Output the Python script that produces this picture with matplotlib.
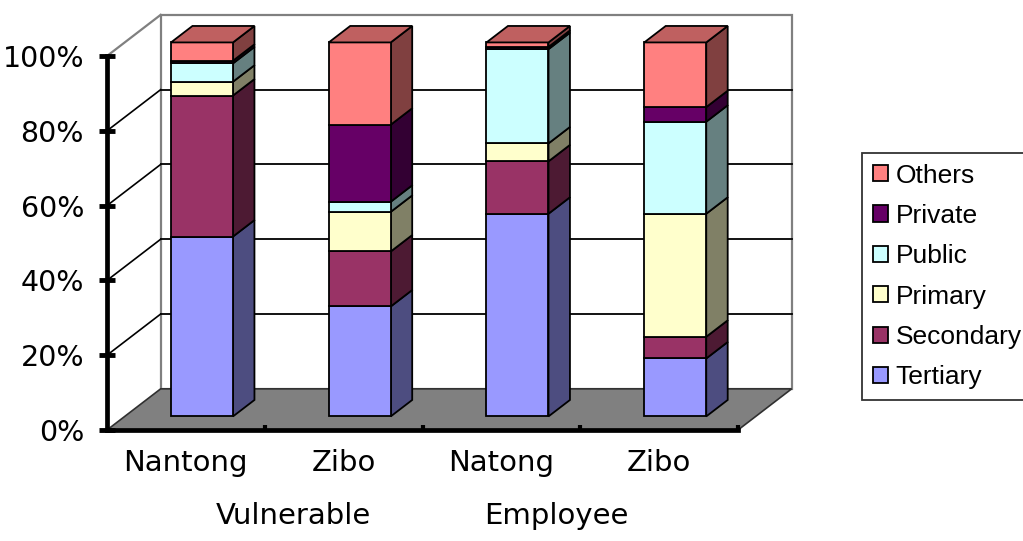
import matplotlib.pyplot as plt
from matplotlib.patches import Polygon, Patch
from matplotlib.colors import to_rgb
import numpy as np

# dados
categories = ['Nantong', 'Zibo', 'Natong', 'Zibo']
groups = ['Vulnerable', 'Employee']
series = ['Tertiary', 'Secondary', 'Primary', 'Public', 'Private', 'Others']
tertiary = [48.1, 29.4, 54.2, 15.5]
secondary = [37.7, 14.7, 14.0, 5.8]
primary = [3.7, 10.6, 4.8, 32.9]
public = [4.9, 2.7, 25.2, 24.6]
private = [0.7, 20.6, 0.6, 3.9]
others = [4.9, 22.0, 1.2, 17.3]
colors = ['#9999FF', '#993366', '#FFFFCC', '#CCFFFF', '#660066', '#FF8080']
y_ticks = [0, 20, 40, 60, 80, 100]

# profundidade da caixa 3D (em unidades de dados)
DX, DY = 0.34, 11.0
Z0, Z1 = 0.33, 0.73
BAR_W = 0.393


def proj(x, y, z):
    return (x + z * DX, y + z * DY)


def shade(c, f):
    return tuple(v * f for v in to_rgb(c))


def poly(ax, pts, fc, ec='black', lw=1.3, z=3):
    ax.add_patch(Polygon(pts, closed=True, facecolor=fc, edgecolor=ec,
                         linewidth=lw, zorder=z, clip_on=False,
                         joinstyle='miter'))


values = np.array([tertiary, secondary, primary, public, private, others])
pct = values / values.sum(axis=0) * 100
n = len(categories)

fig = plt.figure(figsize=(10.23, 5.41), dpi=100)
ax = fig.add_axes([107 / 1023, 111 / 541, 631 / 1023, 374 / 541])
ax.set_xlim(0, n)
ax.set_ylim(0, 100)
ax.patch.set_visible(False)

# parede do fundo com linhas de grade
poly(ax, [proj(0, 0, 1), proj(n, 0, 1), proj(n, 100, 1), proj(0, 100, 1)],
     'white', ec='#808080', lw=1.6, z=0.5)
for v in y_ticks[1:-1]:
    ax.plot(*zip(proj(0, v, 1), proj(n, v, 1)), color='black', lw=1.3,
            zorder=0.8, clip_on=False)
    ax.plot(*zip(proj(0, v, 0), proj(0, v, 1)), color='black', lw=1.2,
            zorder=0.8, clip_on=False)
ax.plot(*zip(proj(0, 100, 0), proj(0, 100, 1)), color='#808080', lw=1.6,
        zorder=0.8, clip_on=False)

# chão
poly(ax, [proj(0, 0, 0), proj(n, 0, 0), proj(n, 0, 1), proj(0, 0, 1)],
     '#808080', ec='#303030', lw=1.2, z=1)

# barras empilhadas
for i in range(n):
    x0 = i + 0.49 - BAR_W / 2
    x1 = x0 + BAR_W
    base = 0
    for k in range(len(series)):
        top = base + pct[k, i]
        c = colors[k]
        poly(ax, [proj(x1, base, Z0), proj(x1, base, Z1),
                  proj(x1, top, Z1), proj(x1, top, Z0)], shade(c, 0.5))
        poly(ax, [proj(x0, base, Z0), proj(x1, base, Z0),
                  proj(x1, top, Z0), proj(x0, top, Z0)], c)
        base = top
    poly(ax, [proj(x0, base, Z0), proj(x1, base, Z0),
              proj(x1, base, Z1), proj(x0, base, Z1)], shade(colors[-1], 0.75))

# eixos
for s in ['top', 'right']:
    ax.spines[s].set_visible(False)
for s in ['left', 'bottom']:
    ax.spines[s].set_linewidth(3.4)
    ax.spines[s].set_zorder(6)

ax.set_yticks(y_ticks)
ax.set_yticklabels([f'{v}%' for v in y_ticks])
ax.tick_params(axis='y', direction='inout', length=11, width=3.5, pad=11,
               labelsize=20.5)
ax.set_xticks(range(1, n + 1))
ax.set_xticklabels([])
ax.tick_params(axis='x', which='major', direction='in', length=3.5, width=3)
ax.set_xticks(np.arange(n) + 0.5, minor=True)
ax.set_xticklabels(categories, minor=True)
ax.tick_params(axis='x', which='minor', length=0, pad=14, labelsize=21)

for lbl, xc in zip(groups, [1.18, 2.85]):
    ax.text(xc, -23, lbl, ha='center', va='center', fontsize=21)

# legenda
handles = [Patch(facecolor=c, edgecolor='black', linewidth=1.3)
           for c in colors[::-1]]
leg = fig.legend(handles, series[::-1], loc='upper left',
                 bbox_to_anchor=(862 / 1023, 1 - 153 / 541),
                 bbox_transform=fig.transFigure, borderaxespad=0,
                 frameon=True, fancybox=False, edgecolor='black',
                 prop={'family': 'Liberation Sans', 'size': 19},
                 handlelength=0.57, handleheight=0.57, handletextpad=0.3,
                 labelspacing=0.62, borderpad=0.4)
leg.get_frame().set_linewidth(1.3)

fig.savefig('out.png', dpi=100)
